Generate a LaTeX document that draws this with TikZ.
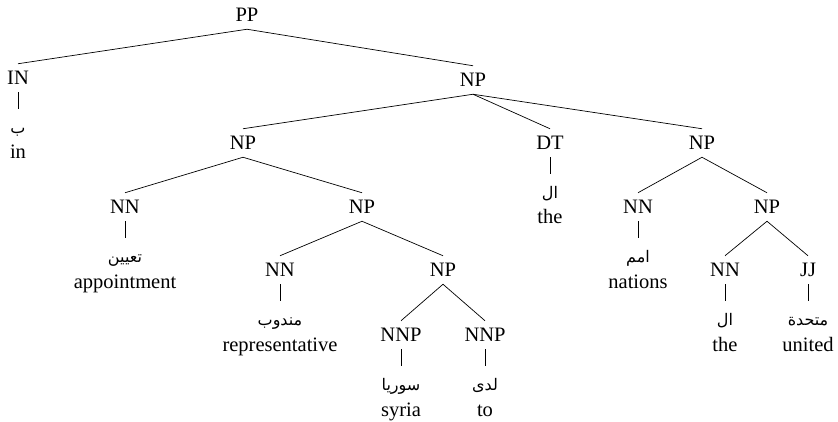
\documentclass[tikz,border=0pt]{standalone}
\usepackage{fontspec}
\setmainfont{Liberation Serif}
\newfontfamily\arabicfont[Script=Arabic]{DejaVu Sans}
\TeXXeTstate=1
\newcommand\artxt[1]{{\arabicfont\fontsize{16}{18}\selectfont\beginR #1\endR}}
\begin{document}
\begin{tikzpicture}[x=1pt,y=-1pt,
  lab/.style={font=\fontsize{20.5}{24}\selectfont, text height=13.5pt, text depth=0pt, inner xsep=1pt, inner ysep=7.3pt},
  arw/.style={anchor=north, text height=15pt, text depth=5pt, inner ysep=9pt, inner xsep=0pt},
  eng/.style={anchor=base, font=\fontsize{20.5}{24}\selectfont, inner sep=0pt},
  edge/.style={line width=0.7pt}]
\useasboundingbox (0,0) rectangle (838,422);
% labels
\node[lab] (PP)   at (247,15)  {PP};
\node[lab] (IN)   at (18,78)   {IN};
\node[lab] (NPa)  at (473,80)  {NP};
\node[lab] (NPb)  at (243,143) {NP};
\node[lab] (DT)   at (550,143) {DT};
\node[lab] (NPc)  at (702,143) {NP};
\node[lab] (NN1)  at (125,207) {NN};
\node[lab] (NPd)  at (362,207) {NP};
\node[lab] (NN2)  at (638,207) {NN};
\node[lab] (NPe)  at (767,207) {NP};
\node[lab] (NN3)  at (280,270) {NN};
\node[lab] (NPf)  at (443,270) {NP};
\node[lab] (NN4)  at (725,270) {NN};
\node[lab] (JJ)   at (808,270) {JJ};
\node[lab] (NNP1) at (401,335) {NNP};
\node[lab] (NNP2) at (485,335) {NNP};
% arabic words
\node[arw] (aIN)   at (18,109)  {\artxt{ب}};
\node[arw] (aDT)   at (550,174) {\artxt{ال}};
\node[arw] (aNN1)  at (125,238) {\artxt{تعيين}};
\node[arw] (aNN2)  at (638,238) {\artxt{امم}};
\node[arw] (aNN3)  at (280,301) {\artxt{مندوب}};
\node[arw] (aNN4)  at (725,301) {\artxt{ال}};
\node[arw] (aJJ)   at (808,301) {\artxt{متحدة}};
\node[arw] (aNNP1) at (401,366) {\artxt{سوريا}};
\node[arw] (aNNP2) at (485,366) {\artxt{لدى}};
% english words
\node[eng] (eIN)   at (18,159)  {in};
\node[eng] (eDT)   at (550,224) {the};
\node[eng] (eNN1)  at (125,288) {appointment};
\node[eng] (eNN2)  at (638,288) {nations};
\node[eng] (eNN3)  at (280,351) {representative};
\node[eng] (eNN4)  at (725,351) {the};
\node[eng] (eJJ)   at (808,351) {united};
\node[eng] (eNNP1) at (401,416) {syria};
\node[eng] (eNNP2) at (485,416) {to};
% tree edges
\draw[edge] (PP.south) -- (IN.north);
\draw[edge] (PP.south) -- (NPa.north);
\draw[edge] (NPa.south) -- (NPb.north);
\draw[edge] (NPa.south) -- (DT.north);
\draw[edge] (NPa.south) -- (NPc.north);
\draw[edge] (NPb.south) -- (NN1.north);
\draw[edge] (NPb.south) -- (NPd.north);
\draw[edge] (NPd.south) -- (NN3.north);
\draw[edge] (NPd.south) -- (NPf.north);
\draw[edge] (NPf.south) -- (NNP1.north);
\draw[edge] (NPf.south) -- (NNP2.north);
\draw[edge] (NPc.south) -- (NN2.north);
\draw[edge] (NPc.south) -- (NPe.north);
\draw[edge] (NPe.south) -- (NN4.north);
\draw[edge] (NPe.south) -- (JJ.north);
% word bars
\foreach \n in {IN,DT,NN1,NN2,NN3,NN4,JJ,NNP1,NNP2}
  \draw[edge] (\n.south) -- (a\n.north);
\end{tikzpicture}
\end{document}
